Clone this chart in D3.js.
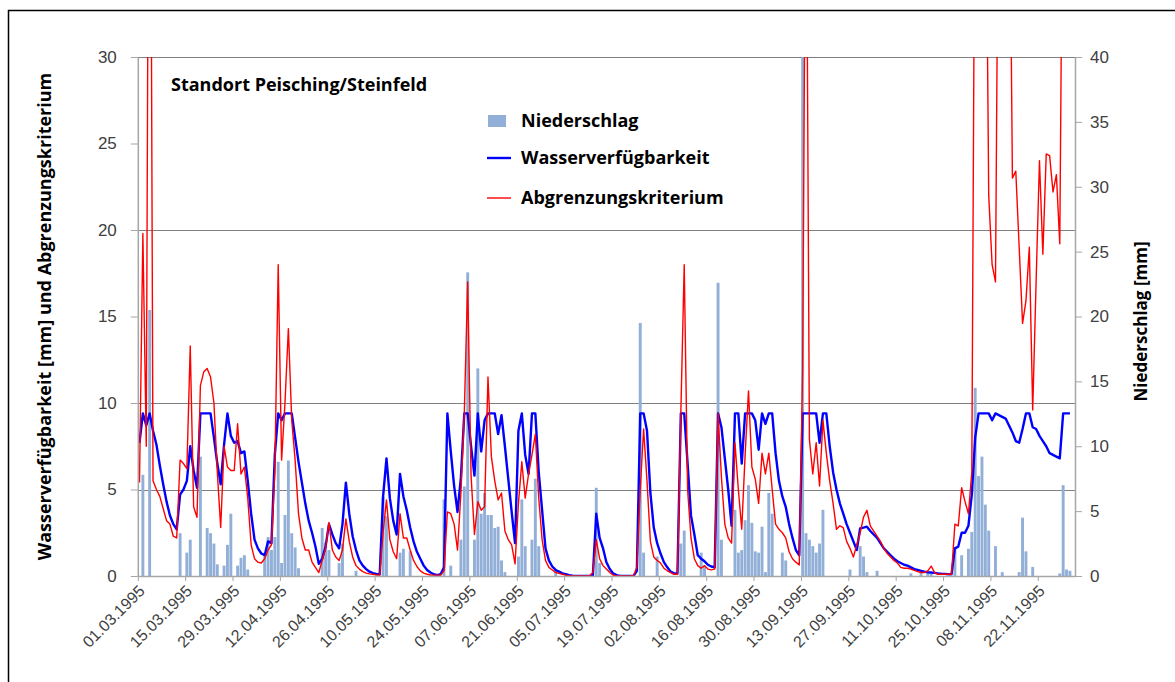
<!DOCTYPE html>
<html>
<head>
<meta charset="utf-8">
<script src="https://cdn.jsdelivr.net/npm/d3@7/dist/d3.min.js"></script>
<style>
  body { margin: 0; background: #fff; }
  svg { display: block; font-family: "Open Sans", Lato, sans-serif; }
  .tick text { fill: #404040; }
  .axis-title { font-weight: bold; fill: #000; }
  .legend-label { font-weight: bold; font-size: 18px; fill: #000; }
</style>
</head>
<body>
<div id="chart"></div>
<script>
// one row = two weeks, starting at 01.03.1995 (last row ends 01.12.1995)
const niederschlag = [
  0, 7.8, 0, 20.5, 0, 0, 0, 0, 0, 0, 0, 0, 3.3, 0,
  1.8, 2.8, 0, 0, 9.2, 0, 3.7, 3.3, 2.5, 0.9, 0, 0.8, 2.4, 4.8,
  0, 0.8, 1.4, 1.6, 0.5, 0, 0, 0, 0, 1.8, 3.0, 2.0, 3.0, 8.8,
  1.0, 4.7, 8.9, 3.3, 2.2, 0.6, 0, 0, 0, 0, 0, 0, 3.7, 2.6,
  2.0, 0, 0, 1.0, 2.5, 0, 0, 0, 0.4, 0, 0, 0, 0, 0,
  0, 0, 6.1, 4.6, 0, 0, 0, 1.8, 2.1, 0, 1.9, 0, 0, 0,
  0, 0, 0, 0, 0, 0, 5.9, 0, 0.8, 0, 0, 2.8, 6.9, 23.4,
  0, 2.8, 16.0, 4.8, 6.4, 4.7, 4.7, 3.7, 3.8, 1.2, 0.3, 0, 0, 0,
  1.5, 5.9, 2.3, 0, 2.8, 7.5, 2.3, 0, 0, 0, 0, 0.5, 0, 0,
  0, 0, 0, 0, 0, 0, 0, 0, 0, 6.8, 1.0, 0, 0, 0,
  0, 0, 0, 0, 0, 0, 0, 0, 19.5, 1.8, 0, 0, 0, 1.5,
  0, 0, 0, 0, 0, 0, 2.5, 3.5, 0, 0, 0, 0, 1.8, 0.8,
  0, 0, 0, 22.6, 2.8, 0, 0, 0, 5.1, 1.8, 2.0, 4.3, 7.0, 4.1,
  1.9, 1.8, 3.8, 0.3, 6.4, 4.8, 0, 0, 1.8, 1.2, 0, 0, 0, 0,
  40.5, 3.3, 2.8, 2.3, 1.8, 2.5, 5.1, 0, 0, 0, 0, 0, 0, 0,
  0.5, 0, 0, 2.3, 1.5, 0.3, 0, 0, 0.4, 0, 0, 0, 0, 0,
  0, 0, 0, 0, 0.2, 0, 0, 0.3, 0, 0.3, 0.2, 0, 0, 0,
  0, 0, 0, 2.2, 0, 1.6, 0, 2.1, 3.4, 14.5, 7.7, 9.2, 5.5, 3.5,
  0, 2.3, 0, 0.3, 0, 0, 0, 0, 0.3, 4.5, 1.9, 0, 0.7, 0,
  0, 0, 0, 0, 0, 0, 0.2, 7.0, 0.5, 0.4
];

const wasserverfuegbarkeit = [
  7.7, 9.4, 8.7, 9.4, 8.4, 7.6, 6.4, 5.3, 4.3, 3.5, 3.0, 2.7, 4.7, 5.0,
  5.5, 7.5, 6.1, 5.1, 9.4, 9.4, 9.4, 9.4, 8.0, 6.5, 5.3, 7.6, 9.4, 8.1,
  7.7, 7.8, 7.1, 7.2, 5.5, 3.6, 2.1, 1.6, 1.3, 1.2, 2.0, 1.9, 7.0, 9.4,
  9.0, 9.4, 9.4, 9.4, 8.0, 6.6, 5.4, 4.2, 3.2, 2.5, 1.7, 0.7, 1.0, 1.7,
  3.0, 2.4, 1.9, 1.6, 3.0, 5.4, 3.6, 2.3, 1.5, 0.9, 0.6, 0.4, 0.25, 0.17,
  0.12, 0.1, 4.6, 6.8, 4.5, 3.2, 2.4, 5.9, 4.6, 3.8, 2.8, 2.0, 1.4, 1.0,
  0.6, 0.35, 0.2, 0.1, 0.05, 0.1, 0.5, 9.4, 7.2, 5.2, 3.7, 5.7, 9.4, 9.4,
  7.5, 5.8, 9.4, 7.2, 9.0, 9.4, 9.4, 9.4, 8.2, 9.3, 7.5, 5.6, 3.7, 1.9,
  8.4, 9.4, 7.0, 5.9, 9.4, 9.4, 6.0, 3.8, 1.6, 0.9, 0.55, 0.35, 0.25, 0.15,
  0.1, 0.05, 0.02, 0, 0, 0, 0, 0, 0.05, 3.6, 2.2, 1.6, 0.8, 0.4,
  0.15, 0.05, 0, 0, 0, 0, 0, 0.3, 9.4, 9.4, 8.4, 4.8, 2.8, 1.9,
  1.3, 0.8, 0.5, 0.25, 0.15, 0.15, 9.4, 9.4, 6.5, 3.5, 2.4, 1.2, 1.0, 0.85,
  0.65, 0.55, 0.5, 9.4, 8.6, 6.8, 5.0, 2.9, 9.4, 9.4, 6.5, 9.4, 9.4, 9.4,
  9.0, 7.3, 9.4, 8.8, 9.4, 9.4, 7.1, 5.5, 4.6, 4.0, 3.0, 2.2, 1.5, 1.2,
  9.4, 9.4, 9.4, 9.4, 9.4, 7.7, 9.4, 9.4, 7.5, 6.0, 5.0, 4.2, 3.6, 3.0,
  2.5, 2.0, 1.5, 2.75, 2.8, 2.85, 2.6, 2.4, 2.2, 1.9, 1.6, 1.4, 1.2, 1.0,
  0.85, 0.75, 0.65, 0.6, 0.5, 0.4, 0.35, 0.3, 0.25, 0.22, 0.2, 0.18, 0.15, 0.13,
  0.12, 0.1, 0.1, 1.6, 1.7, 2.5, 2.5, 2.9, 4.7, 8.0, 9.4, 9.4, 9.4, 9.4,
  9.0, 9.4, 9.3, 9.2, 9.1, 8.7, 8.3, 7.8, 7.7, 8.5, 9.4, 9.4, 8.6, 8.5,
  8.1, 7.8, 7.5, 7.1, 7.0, 6.9, 6.8, 9.4, 9.4, 9.4
];

const abgrenzungskriterium = [
  5.4, 19.8, 7.5, 60, 5.5, 5.0, 4.6, 3.9, 3.2, 3.0, 2.3, 2.2, 6.7, 6.5,
  6.2, 13.3, 4.0, 3.4, 11.0, 11.8, 12.0, 11.5, 10.0, 6.0, 2.8, 7.5, 6.3, 6.1,
  6.1, 8.8, 5.9, 6.3, 4.5, 1.8, 1.0, 0.8, 0.75, 1.0, 1.5, 1.8, 6.0, 18.0,
  6.7, 10.0, 14.3, 9.0, 6.7, 3.6, 2.2, 1.5, 1.5, 0.8, 0.5, 0.2, 0.9, 1.6,
  3.1, 1.5, 1.1, 0.9, 1.5, 3.3, 2.0, 1.1, 0.6, 0.4, 0.25, 0.17, 0.12, 0.1,
  0.06, 0.05, 2.5, 4.4, 2.1, 1.4, 1.0, 3.6, 2.2, 2.2, 1.5, 0.9, 0.55, 0.3,
  0.17, 0.1, 0.06, 0.05, 0.05, 0.05, 0.3, 3.7, 3.6, 3.0, 1.5, 4.8, 9.4, 17.0,
  5.8, 2.4, 4.3, 3.8, 4.0, 11.5, 6.9, 5.5, 4.4, 4.8, 2.6, 2.1, 1.8, 0.7,
  4.2, 6.6, 4.5, 5.9, 7.0, 8.2, 4.5, 2.1, 0.9, 0.5, 0.35, 0.2, 0.15, 0.1,
  0.05, 0.02, 0, 0, 0, 0, 0, 0, 0.2, 2.1, 1.0, 0.6, 0.4, 0.2,
  0.05, 0, 0, 0, 0, 0, 0, 0.5, 5.0, 8.5, 5.5, 2.0, 1.1, 0.9,
  0.75, 0.45, 0.3, 0.2, 0.1, 0.1, 9.4, 18.0, 5.0, 2.2, 1.0, 0.6, 0.45, 0.6,
  0.4, 0.35, 0.4, 9.4, 5.7, 3.0, 2.2, 1.9, 7.7, 5.0, 2.7, 7.0, 10.7, 6.3,
  5.6, 4.2, 7.1, 5.9, 7.1, 5.0, 3.0, 2.7, 2.5, 2.2, 1.4, 1.0, 0.8, 0.64,
  12.0, 45, 7.9, 5.9, 7.7, 5.2, 9.0, 7.1, 5.5, 4.2, 2.7, 2.9, 2.8, 2.0,
  1.6, 1.1, 1.8, 2.5, 3.4, 3.8, 2.9, 2.6, 2.3, 2.0, 1.6, 1.3, 1.1, 0.9,
  0.75, 0.5, 0.45, 0.45, 0.4, 0.33, 0.25, 0.2, 0.2, 0.3, 0.57, 0.2, 0.1, 0.1,
  0.1, 0.1, 0.1, 3.0, 2.9, 5.1, 4.3, 3.6, 6.0, 45, 45, 45, 45, 22.0,
  18.0, 17.0, 45, 45, 45, 45, 23.0, 23.4, 19.0, 14.6, 15.9, 19.0, 9.6, 17.0,
  24.0, 18.6, 24.4, 24.3, 22.2, 23.2, 19.2, 45, 45, 45
];

const dateLabels = [
  '01.03.1995', '15.03.1995', '29.03.1995', '12.04.1995', '26.04.1995',
  '10.05.1995', '24.05.1995', '07.06.1995', '21.06.1995', '05.07.1995',
  '19.07.1995', '02.08.1995', '16.08.1995', '30.08.1995', '13.09.1995',
  '27.09.1995', '11.10.1995', '25.10.1995', '08.11.1995', '22.11.1995'
];
const leftTicks = [0, 5, 10, 15, 20, 25, 30];
const rightTicks = [0, 5, 10, 15, 20, 25, 30, 35, 40];
const gridValues = [5, 10, 20, 30];
const seriesNames = ['Niederschlag', 'Wasserverfügbarkeit', 'Abgrenzungskriterium'];
const chartTitle = 'Standort Peisching/Steinfeld';

class WaterChart {

  constructor(_config) {
    this.config = {
      parentElement: _config.parentElement,
      containerWidth: 1175,
      containerHeight: 682,
      plot: {left: 137.8, right: 1075, top: 57, bottom: 576},
      dayCount: 277,
      barColor: '#92afd8',
      blueColor: '#0000ff',
      redColor: '#ff0000'
    };
    this.initVis();
  }

  initVis() {
    let vis = this;
    const p = vis.config.plot;

    vis.svg = d3.select(vis.config.parentElement).append('svg')
        .attr('width', vis.config.containerWidth)
        .attr('height', vis.config.containerHeight);

    vis.x = d3.scaleLinear().domain([0, vis.config.dayCount]).range([p.left, p.right]);
    vis.yLeft = d3.scaleLinear().domain([0, 30]).range([p.bottom, p.top]);
    vis.yRight = d3.scaleLinear().domain([0, 40]).range([p.bottom, p.top]);

    vis.svg.append('defs').append('clipPath')
        .attr('id', 'plot-clip')
      .append('rect')
        .attr('x', p.left)
        .attr('y', p.top)
        .attr('width', p.right - p.left)
        .attr('height', p.bottom - p.top);

    // frame around the whole chart (only top and left edges are visible)
    vis.svg.append('path')
        .attr('d', 'M8.5,690V10.5H1190')
        .attr('fill', 'none')
        .attr('stroke', '#000')
        .attr('stroke-width', 1.5);

    vis.renderVis();
  }

  renderVis() {
    let vis = this;
    const p = vis.config.plot;

    // gridlines
    vis.svg.append('g')
      .selectAll('line')
        .data(gridValues)
      .join('line')
        .attr('x1', p.left)
        .attr('x2', p.right)
        .attr('y1', d => Math.round(vis.yLeft(d)) + 0.5)
        .attr('y2', d => Math.round(vis.yLeft(d)) + 0.5)
        .attr('stroke', '#808080')
        .attr('stroke-width', 1);

    const plotArea = vis.svg.append('g').attr('clip-path', 'url(#plot-clip)');

    // precipitation bars (right axis)
    const barWidth = (vis.x(1) - vis.x(0)) * 0.86;
    plotArea.append('g')
      .selectAll('rect')
        .data(niederschlag)
      .join('rect')
        .attr('x', (d, i) => vis.x(i + 0.5) - barWidth / 2)
        .attr('y', d => vis.yRight(d))
        .attr('width', barWidth)
        .attr('height', d => p.bottom - vis.yRight(d))
        .attr('fill', vis.config.barColor);

    const line = scale => d3.line()
        .x((d, i) => vis.x(i + 0.5))
        .y(d => scale(d));

    plotArea.append('path')
        .datum(wasserverfuegbarkeit)
        .attr('d', line(vis.yLeft))
        .attr('fill', 'none')
        .attr('stroke', vis.config.blueColor)
        .attr('stroke-width', 2.4)
        .attr('stroke-linejoin', 'round');

    plotArea.append('path')
        .datum(abgrenzungskriterium)
        .attr('d', line(vis.yLeft))
        .attr('fill', 'none')
        .attr('stroke', vis.config.redColor)
        .attr('stroke-width', 1.4)
        .attr('stroke-linejoin', 'round');

    // axes
    const leftAxis = vis.svg.append('g')
        .attr('transform', `translate(${p.left},0)`)
        .call(d3.axisLeft(vis.yLeft).tickValues(leftTicks).tickSize(7).tickSizeOuter(0).tickPadding(14));

    const rightAxis = vis.svg.append('g')
        .attr('transform', `translate(${p.right},0)`)
        .call(d3.axisRight(vis.yRight).tickValues(rightTicks).tickSize(7).tickSizeOuter(0).tickPadding(8));

    const tickDays = dateLabels.map((d, k) => k * 14);
    const bottomAxis = vis.svg.append('g')
        .attr('transform', `translate(0,${p.bottom})`)
        .call(d3.axisBottom(vis.x).tickValues(tickDays).tickSize(5).tickSizeOuter(0)
          .tickFormat((d, k) => dateLabels[k]));

    [leftAxis, rightAxis, bottomAxis].forEach(g => {
      g.select('.domain').attr('stroke', '#a6a6a6').attr('stroke-width', 1.5);
      g.selectAll('.tick line').attr('stroke', '#a6a6a6');
    });
    leftAxis.selectAll('.tick text').style('font-size', '17px');
    rightAxis.selectAll('.tick text').style('font-size', '17px');

    bottomAxis.selectAll('.tick text')
        .style('font-size', '16px')
        .attr('text-anchor', 'end')
        .attr('x', -6)
        .attr('y', 11)
        .attr('dy', '0.35em')
        .attr('transform', 'rotate(-45)');

    // axis titles
    vis.svg.append('text')
        .attr('class', 'axis-title')
        .attr('transform', `translate(45,${(p.top + p.bottom) / 2}) rotate(-90)`)
        .attr('text-anchor', 'middle')
        .attr('dy', '0.35em')
        .style('font-size', '18px')
        .text('Wasserverfügbarkeit [mm] und Abgrenzungskriterium');

    vis.svg.append('text')
        .attr('class', 'axis-title')
        .attr('transform', `translate(1141,${(p.top + p.bottom) / 2 + 5}) rotate(-90)`)
        .attr('text-anchor', 'middle')
        .attr('dy', '0.35em')
        .style('font-size', '17px')
        .text('Niederschlag [mm]');

    // chart title
    vis.svg.append('text')
        .attr('class', 'axis-title')
        .attr('x', 171)
        .attr('y', 91)
        .style('font-size', '18px')
        .text(chartTitle);

    // legend
    const legend = vis.svg.append('g').attr('transform', 'translate(487,0)');
    const rows = legend.selectAll('g')
        .data(seriesNames)
      .join('g')
        .attr('transform', (d, i) => `translate(0,${[121, 158, 198][i]})`);

    rows.filter((d, i) => i === 0).append('rect')
        .attr('x', 1).attr('y', -6).attr('width', 18).attr('height', 12)
        .attr('fill', vis.config.barColor);
    rows.filter((d, i) => i > 0).append('line')
        .attr('x1', 0).attr('x2', 24)
        .attr('stroke', (d, i) => i === 0 ? vis.config.blueColor : vis.config.redColor)
        .attr('stroke-width', (d, i) => i === 0 ? 2.4 : 1.4);

    rows.append('text')
        .attr('class', 'legend-label')
        .attr('x', 34)
        .attr('dy', '0.35em')
        .text(d => d);
  }
}

new WaterChart({parentElement: '#chart'});
</script>
</body>
</html>
